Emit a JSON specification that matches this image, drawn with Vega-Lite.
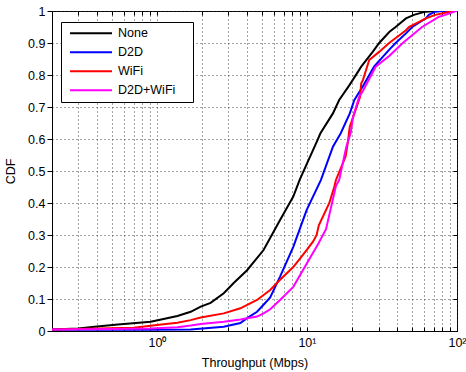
{
  "$schema": "https://vega.github.io/schema/vega-lite/v6.json",
  "width": 405,
  "height": 320,
  "autosize": "none",
  "padding": {"left": 52, "top": 11, "right": 9, "bottom": 41},
  "background": "white",
  "config": {
    "view": {"stroke": "black", "strokeWidth": 1},
    "font": "Liberation Sans",
    "axis": {"labelColor": "black", "titleColor": "black", "domainColor": "black", "tickColor": "black", "labelFont": "Liberation Sans", "titleFont": "Liberation Sans", "titleFontWeight": "normal"}
  },
  "datasets": {
    "cdf": [
      {"scheme": "None", "x": 0.2, "y": 0.005}, {"scheme": "None", "x": 0.3, "y": 0.008}, {"scheme": "None", "x": 0.384, "y": 0.013}, {"scheme": "None", "x": 0.55, "y": 0.02}, {"scheme": "None", "x": 0.91, "y": 0.029}, {"scheme": "None", "x": 1.37, "y": 0.047}, {"scheme": "None", "x": 1.68, "y": 0.06}, {"scheme": "None", "x": 1.96, "y": 0.076}, {"scheme": "None", "x": 2.28, "y": 0.088}, {"scheme": "None", "x": 2.79, "y": 0.118}, {"scheme": "None", "x": 3.25, "y": 0.15}, {"scheme": "None", "x": 3.99, "y": 0.19}, {"scheme": "None", "x": 5.14, "y": 0.253}, {"scheme": "None", "x": 6.62, "y": 0.347}, {"scheme": "None", "x": 8.11, "y": 0.42}, {"scheme": "None", "x": 8.94, "y": 0.472}, {"scheme": "None", "x": 11.6, "y": 0.59}, {"scheme": "None", "x": 12.3, "y": 0.618}, {"scheme": "None", "x": 14.9, "y": 0.68}, {"scheme": "None", "x": 16.4, "y": 0.722}, {"scheme": "None", "x": 19.3, "y": 0.77}, {"scheme": "None", "x": 23, "y": 0.826}, {"scheme": "None", "x": 27.5, "y": 0.873}, {"scheme": "None", "x": 30.3, "y": 0.9}, {"scheme": "None", "x": 35.5, "y": 0.935}, {"scheme": "None", "x": 39, "y": 0.95}, {"scheme": "None", "x": 45.7, "y": 0.977}, {"scheme": "None", "x": 51.6, "y": 0.988}, {"scheme": "None", "x": 61.7, "y": 0.998}, {"scheme": "None", "x": 72, "y": 1.0}, {"scheme": "None", "x": 100, "y": 1.0},

      {"scheme": "D2D", "x": 0.2, "y": 0.004}, {"scheme": "D2D", "x": 0.9, "y": 0.004}, {"scheme": "D2D", "x": 1.68, "y": 0.005}, {"scheme": "D2D", "x": 2.79, "y": 0.013}, {"scheme": "D2D", "x": 3.6, "y": 0.025}, {"scheme": "D2D", "x": 3.99, "y": 0.04}, {"scheme": "D2D", "x": 4.65, "y": 0.06}, {"scheme": "D2D", "x": 5.14, "y": 0.082}, {"scheme": "D2D", "x": 5.69, "y": 0.105}, {"scheme": "D2D", "x": 6.62, "y": 0.17}, {"scheme": "D2D", "x": 8.11, "y": 0.263}, {"scheme": "D2D", "x": 9.95, "y": 0.378}, {"scheme": "D2D", "x": 12.4, "y": 0.472}, {"scheme": "D2D", "x": 14.9, "y": 0.576}, {"scheme": "D2D", "x": 16.8, "y": 0.618}, {"scheme": "D2D", "x": 19.3, "y": 0.68}, {"scheme": "D2D", "x": 20.7, "y": 0.722}, {"scheme": "D2D", "x": 23.6, "y": 0.765}, {"scheme": "D2D", "x": 28, "y": 0.826}, {"scheme": "D2D", "x": 35.5, "y": 0.88}, {"scheme": "D2D", "x": 39, "y": 0.9}, {"scheme": "D2D", "x": 45.7, "y": 0.93}, {"scheme": "D2D", "x": 50.3, "y": 0.95}, {"scheme": "D2D", "x": 62.1, "y": 0.977}, {"scheme": "D2D", "x": 64.9, "y": 0.988}, {"scheme": "D2D", "x": 71.5, "y": 0.998}, {"scheme": "D2D", "x": 80, "y": 1.0}, {"scheme": "D2D", "x": 100, "y": 1.0},

      {"scheme": "WiFi", "x": 0.2, "y": 0.005}, {"scheme": "WiFi", "x": 0.7, "y": 0.01}, {"scheme": "WiFi", "x": 1.0, "y": 0.019}, {"scheme": "WiFi", "x": 1.37, "y": 0.026}, {"scheme": "WiFi", "x": 1.68, "y": 0.034}, {"scheme": "WiFi", "x": 1.96, "y": 0.042}, {"scheme": "WiFi", "x": 2.79, "y": 0.055}, {"scheme": "WiFi", "x": 3.6, "y": 0.071}, {"scheme": "WiFi", "x": 4.65, "y": 0.097}, {"scheme": "WiFi", "x": 5.69, "y": 0.128}, {"scheme": "WiFi", "x": 6.62, "y": 0.16}, {"scheme": "WiFi", "x": 8.11, "y": 0.2}, {"scheme": "WiFi", "x": 9.95, "y": 0.253}, {"scheme": "WiFi", "x": 11.0, "y": 0.28}, {"scheme": "WiFi", "x": 11.6, "y": 0.3}, {"scheme": "WiFi", "x": 12.0, "y": 0.33}, {"scheme": "WiFi", "x": 14.1, "y": 0.4}, {"scheme": "WiFi", "x": 15.2, "y": 0.45}, {"scheme": "WiFi", "x": 15.6, "y": 0.472}, {"scheme": "WiFi", "x": 18.1, "y": 0.545}, {"scheme": "WiFi", "x": 18.7, "y": 0.587}, {"scheme": "WiFi", "x": 19.3, "y": 0.638}, {"scheme": "WiFi", "x": 22.6, "y": 0.732}, {"scheme": "WiFi", "x": 23.0, "y": 0.774}, {"scheme": "WiFi", "x": 23.6, "y": 0.784}, {"scheme": "WiFi", "x": 26, "y": 0.847}, {"scheme": "WiFi", "x": 30.4, "y": 0.873}, {"scheme": "WiFi", "x": 35.3, "y": 0.9}, {"scheme": "WiFi", "x": 45.7, "y": 0.94}, {"scheme": "WiFi", "x": 47.8, "y": 0.95}, {"scheme": "WiFi", "x": 62.1, "y": 0.977}, {"scheme": "WiFi", "x": 71.7, "y": 0.988}, {"scheme": "WiFi", "x": 88, "y": 0.997}, {"scheme": "WiFi", "x": 98, "y": 1.0}, {"scheme": "WiFi", "x": 100, "y": 1.0},

      {"scheme": "D2D+WiFi", "x": 0.2, "y": 0.005}, {"scheme": "D2D+WiFi", "x": 0.5, "y": 0.006}, {"scheme": "D2D+WiFi", "x": 0.91, "y": 0.008}, {"scheme": "D2D+WiFi", "x": 1.37, "y": 0.012}, {"scheme": "D2D+WiFi", "x": 1.68, "y": 0.017}, {"scheme": "D2D+WiFi", "x": 1.96, "y": 0.022}, {"scheme": "D2D+WiFi", "x": 2.79, "y": 0.029}, {"scheme": "D2D+WiFi", "x": 3.6, "y": 0.036}, {"scheme": "D2D+WiFi", "x": 4.65, "y": 0.045}, {"scheme": "D2D+WiFi", "x": 5.14, "y": 0.055}, {"scheme": "D2D+WiFi", "x": 5.69, "y": 0.068}, {"scheme": "D2D+WiFi", "x": 6.62, "y": 0.097}, {"scheme": "D2D+WiFi", "x": 8.11, "y": 0.138}, {"scheme": "D2D+WiFi", "x": 9.95, "y": 0.21}, {"scheme": "D2D+WiFi", "x": 11.9, "y": 0.273}, {"scheme": "D2D+WiFi", "x": 13.4, "y": 0.318}, {"scheme": "D2D+WiFi", "x": 15.6, "y": 0.453}, {"scheme": "D2D+WiFi", "x": 16.4, "y": 0.472}, {"scheme": "D2D+WiFi", "x": 18.3, "y": 0.576}, {"scheme": "D2D+WiFi", "x": 19.6, "y": 0.62}, {"scheme": "D2D+WiFi", "x": 20.3, "y": 0.67}, {"scheme": "D2D+WiFi", "x": 22.3, "y": 0.732}, {"scheme": "D2D+WiFi", "x": 23.6, "y": 0.75}, {"scheme": "D2D+WiFi", "x": 28.7, "y": 0.826}, {"scheme": "D2D+WiFi", "x": 35.5, "y": 0.86}, {"scheme": "D2D+WiFi", "x": 43.5, "y": 0.9}, {"scheme": "D2D+WiFi", "x": 58.5, "y": 0.95}, {"scheme": "D2D+WiFi", "x": 76, "y": 0.982}, {"scheme": "D2D+WiFi", "x": 83.8, "y": 0.988}, {"scheme": "D2D+WiFi", "x": 98, "y": 1.0}, {"scheme": "D2D+WiFi", "x": 100, "y": 1.0}
    ]
  },
  "layer": [
    {
      "data": {"name": "cdf"},
      "mark": {"type": "line", "strokeWidth": 2, "clip": true, "interpolate": "linear"},
      "encoding": {
        "x": {
          "field": "x", "type": "quantitative",
          "scale": {"type": "log", "domain": [0.2, 100], "nice": false},
          "axis": {
            "orient": "bottom",
            "values": [0.2, 0.3, 0.4, 0.5, 0.6, 0.7, 0.8, 0.9, 1, 2, 3, 4, 5, 6, 7, 8, 9, 10, 20, 30, 40, 50, 60, 70, 80, 90, 100],
            "labelExpr": "datum.value == 1 ? '10⁰' : datum.value == 10 ? '10¹' : datum.value == 100 ? '10²' : ''",
            "title": "Throughput (Mbps)",
            "titleFontSize": 12.5,
            "titlePadding": 8,
            "labelFontSize": 12.5,
            "labelPadding": 9,
            "labelFlush": false,
            "labelOverlap": false,
            "tickSize": -4,
            "grid": true,
            "gridColor": "#333333",
            "gridDash": [1, 3],
            "gridOpacity": 0.9
          }
        },
        "y": {
          "field": "y", "type": "quantitative",
          "scale": {"domain": [0, 1], "nice": false},
          "axis": {
            "orient": "left",
            "values": [0, 0.1, 0.2, 0.3, 0.4, 0.5, 0.6, 0.7, 0.8, 0.9, 1],
            "format": "~g",
            "title": "CDF",
            "titleFontSize": 12.5,
            "titlePadding": 10,
            "labelFontSize": 12.5,
            "labelPadding": 2,
            "labelFlush": false,
            "tickSize": 5,
            "grid": true,
            "gridColor": "#333333",
            "gridDash": [1, 3],
            "gridOpacity": 0.9
          }
        },
        "color": {
          "field": "scheme", "type": "nominal",
          "scale": {"domain": ["None", "D2D", "WiFi", "D2D+WiFi"], "range": ["#000000", "#0000FF", "#FF0000", "#FF00FF"]},
          "legend": {
            "title": "\u00a0",
            "titleOrient": "right",
            "titlePadding": 16,
            "titleFontSize": 12.5,
            "orient": "none",
            "legendX": 9,
            "legendY": 11,
            "symbolType": "stroke",
            "symbolSize": 1764,
            "symbolStrokeWidth": 2,
            "symbolOffset": 6,
            "labelFontSize": 12.5,
            "labelFont": "Liberation Sans",
            "labelColor": "black",
            "labelOffset": 5,
            "labelLimit": 400,
            "padding": 2,
            "clipHeight": 18.5,
            "rowPadding": 0,
            "strokeColor": "black",
            "fillColor": "white"
          }
        }
      }
    },
    {
      "data": {"name": "cdf"},
      "mark": {"type": "point", "opacity": 0},
      "encoding": {
        "x": {
          "field": "x", "type": "quantitative",
          "axis": {
            "orient": "top",
            "values": [0.2, 0.3, 0.4, 0.5, 0.6, 0.7, 0.8, 0.9, 1, 2, 3, 4, 5, 6, 7, 8, 9, 10, 20, 30, 40, 50, 60, 70, 80, 90, 100],
            "labels": false, "title": null, "grid": false, "domain": false, "tickSize": -4
          }
        },
        "y": {
          "field": "y", "type": "quantitative",
          "axis": {
            "orient": "right",
            "values": [0, 0.1, 0.2, 0.3, 0.4, 0.5, 0.6, 0.7, 0.8, 0.9, 1],
            "labels": false, "title": null, "grid": false, "domain": false, "tickSize": -4
          }
        }
      }
    }
  ],
  "resolve": {"axis": {"x": "independent", "y": "independent"}}
}
